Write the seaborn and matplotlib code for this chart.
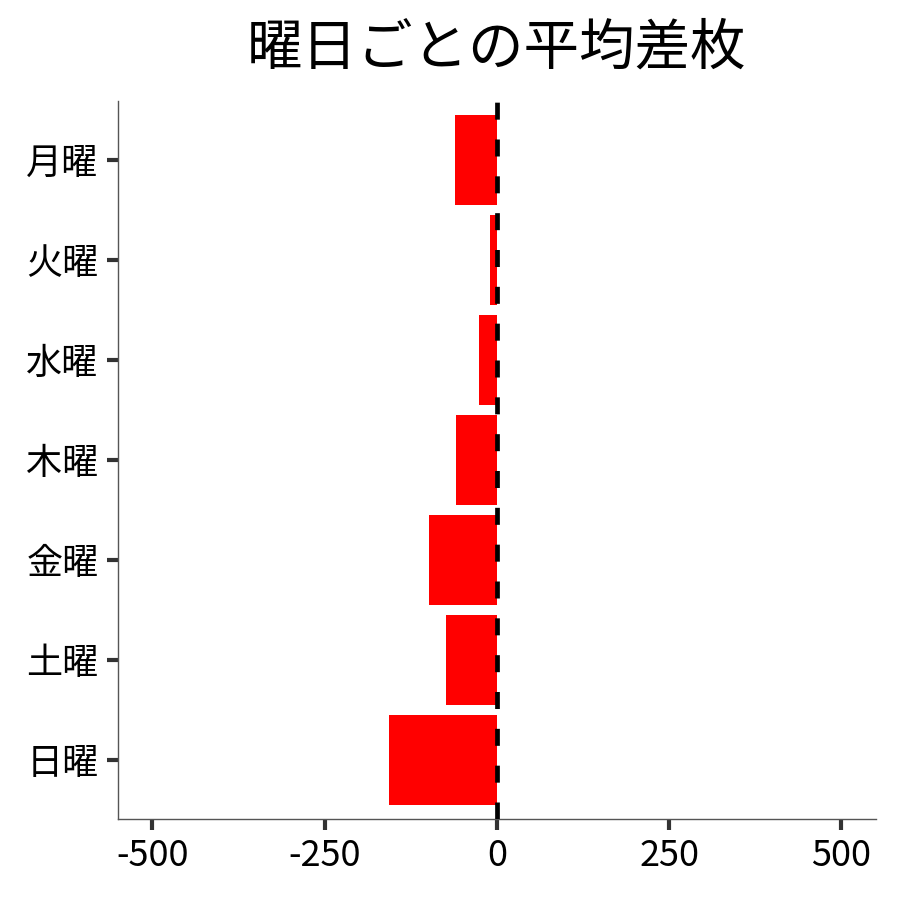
import matplotlib
matplotlib.use("Agg")
import matplotlib.pyplot as plt
import seaborn as sns
import pandas as pd

# 曜日ごとの平均差枚
days = ["月曜", "火曜", "水曜", "木曜", "金曜", "土曜", "日曜"]
avg_diff = [-61, -10, -26, -59, -98, -74, -157]
x_ticks = [-500, -250, 0, 250, 500]

df = pd.DataFrame({"day": days, "diff": avg_diff})

sns.set_theme(style="ticks")
plt.rcParams["font.family"] = ["Noto Sans CJK JP", "DejaVu Sans"]

fig = plt.figure(figsize=(9, 9), dpi=100)
ax = fig.add_axes([0.131, 0.09, 0.842, 0.798])

sns.barplot(data=df, x="diff", y="day", order=days, color="#ff0000",
            saturation=1, width=0.9, edgecolor="none", linewidth=0, ax=ax)
ax.axvline(0, color="black", linestyle=(0, (3.6, 4.2)), linewidth=3.4,
           zorder=5)

ax.set_xlim(-550, 550)
ax.set_ylim(6.59, -0.59)
ax.set_xticks(x_ticks)
ax.set_xticklabels([str(t) for t in x_ticks])
ax.set_xlabel("")
ax.set_ylabel("")
ax.set_title("曜日ごとの平均差枚", fontsize=40, pad=26, color="black")

ax.tick_params(axis="both", labelsize=26, length=8, width=3, color="#333333",
               labelcolor="black", pad=6)
for side in ["top", "right"]:
    ax.spines[side].set_visible(False)
for side in ["left", "bottom"]:
    ax.spines[side].set_color("#555555")
    ax.spines[side].set_linewidth(1)

fig.savefig("out.png", dpi=100)
